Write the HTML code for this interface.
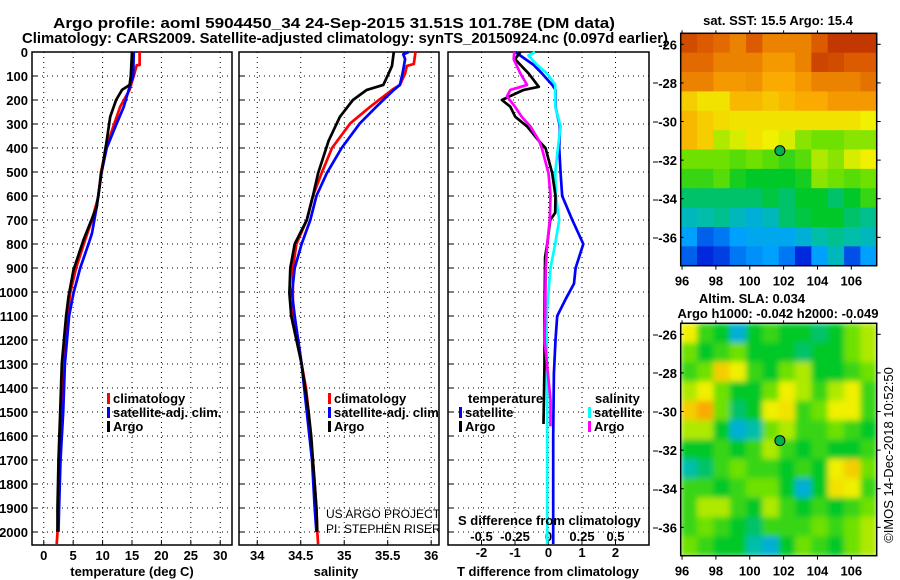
<!DOCTYPE html>
<html><head><meta charset="utf-8"><style>
body{margin:0;background:#fff;}
svg{display:block;font-family:"Liberation Sans",Arial,sans-serif;}
.b{font-weight:bold;font-size:13px;}
.n{font-weight:normal;}
</style></head><body>
<svg id="c" width="900" height="580" viewBox="0 0 900 580" xmlns="http://www.w3.org/2000/svg">
<defs>
<clipPath id="clipSal"><rect x="239" y="52" width="200" height="493"/></clipPath>
<clipPath id="clipSla"><rect x="680.7" y="323.3" width="196" height="232.4"/></clipPath>
<filter id="blur" x="0" y="0" width="1" height="1"><feGaussianBlur stdDeviation="3" edgeMode="duplicate"/></filter>
</defs>
<text x="53" y="28" textLength="562" lengthAdjust="spacingAndGlyphs" font-weight="bold" font-size="15">Argo profile: aoml 5904450_34 24-Sep-2015 31.51S 101.78E (DM data)</text>
<text x="22" y="43" textLength="646" lengthAdjust="spacingAndGlyphs" font-weight="bold" font-size="15">Climatology: CARS2009. Satellite-adjusted climatology: synTS_20150924.nc (0.097d earlier)</text>
<g id="g"></g>
</svg>
<script>
// ---- data ----
const depthTicks=[0,100,200,300,400,500,600,700,800,900,1000,1100,1200,1300,1400,1500,1600,1700,1800,1900,2000];
const tTicks=[0,5,10,15,20,25,30];
const sTicks=[34,34.5,35,35.5,36];
const dTTicks=[-2,-1,0,1,2];
const dSTicks=[-0.5,-0.25,0,0.25,0.5];
const dSLabels=["-0.5","-0.25","0","0.25","0.5"];
const tClimD=[0,54,55,90,158,228,297,400,505,600,700,800,900,1005,1100,1300,1500,1700,1900,2000,2050];
const tClim=[16.3,16.3,15.8,15.4,14.6,13.0,12.0,10.6,9.7,9.3,8.2,6.8,5.5,4.5,4.0,3.35,2.96,2.67,2.5,2.33,2.2];
const tArgoD=[0,100,137,158,200,270,370,505,645,783,908,1020,1100,1300,1500,1700,1900,2000];
const tArgo=[15.0,14.8,14.6,13.3,12.3,11.3,10.7,9.8,9.0,6.75,5.05,4.2,3.8,3.07,2.8,2.5,2.33,2.33];
const tSatD=[0,100,137,228,310,400,505,645,755,800,900,1005,1100,1300,1500,1700,1900,2000];
const tSat=[15.3,15.2,14.7,13.6,12.2,10.7,9.8,9.0,8.2,7.6,6.2,5.05,4.3,3.6,3.3,2.85,2.6,2.5];
const sClimD=[0,50,58,90,137,158,228,297,400,505,600,700,800,900,1005,1100,1200,1300,1400,1500,1600,1700,1800,1900,2000,2050];
const sClim=[35.82,35.8,35.72,35.7,35.64,35.55,35.30,35.07,34.86,34.74,34.64,34.57,34.45,34.41,34.41,34.41,34.47,34.51,34.56,34.59,34.61,34.64,34.66,34.68,34.69,34.70];
const sArgoD=[0,58,90,137,158,200,270,370,505,600,700,800,900,1005,1100,1200,1300,1400,1500,1600,1700,1800,1900,2000];
const sArgo=[35.57,35.55,35.51,35.45,35.26,35.1,34.95,34.82,34.70,34.64,34.57,34.43,34.38,34.37,34.39,34.45,34.51,34.55,34.59,34.62,34.64,34.66,34.68,34.69];
const sSatD=[0,10,30,90,137,158,228,297,400,505,600,700,800,900,1005,1100,1300,1500,1700,1900,2000];
const sSat=[35.74,35.68,35.70,35.67,35.64,35.57,35.37,35.18,34.97,34.80,34.68,34.61,34.51,34.43,34.40,34.43,34.51,34.57,34.63,34.66,34.68];
const dTArgoD=[0,30,90,145,158,200,228,270,310,370,400,505,600,670,700,800,855,1100,1300,1550];
const dTArgo=[-0.84,-1.0,-0.59,-0.29,-0.74,-1.39,-1.14,-0.99,-0.64,-0.29,-0.09,0.11,0.21,0.2,0.05,-0.04,-0.1,-0.12,-0.12,-0.15];
const dSArgoD=[0,30,90,137,158,185,228,270,310,370,400,505,600,700,800,900,1100,1200,1310,1450,1560];
const dSArgo=[-0.255,-0.26,-0.21,-0.16,-0.285,-0.31,-0.25,-0.2,-0.135,-0.07,-0.05,0.0,0.015,0.01,-0.01,-0.02,-0.025,-0.03,-0.01,0.015,0.015];
const dTSatD=[0,15,54,90,137,158,228,310,400,505,600,700,800,900,965,1030,1100,1200,1340,1600,2050];
const dTSat=[-0.99,-0.84,-0.44,-0.19,0.11,0.21,0.21,0.34,0.32,0.36,0.41,0.71,1.04,0.81,0.76,0.51,0.26,0.21,0.16,0.14,0.14];
const dSSatD=[0,15,54,90,137,228,310,400,505,600,700,800,900,1100,1340,1600,2050];
const dSSat=[-0.1,-0.15,-0.085,-0.01,0.05,0.05,0.09,0.07,0.05,0.055,0.08,0.05,0.015,-0.015,-0.01,-0.01,-0.01];
const latTicks=[-26,-28,-30,-32,-34,-36];
const lonTicks=[96,98,100,102,104,106];
const sstGrid=[
[0.92,0.9,0.88,0.85,0.9,0.85,0.85,0.85,0.9,0.95,0.95,0.95],
[0.88,0.88,0.85,0.85,0.85,0.82,0.82,0.85,0.93,0.92,0.9,0.9],
[0.85,0.85,0.82,0.82,0.83,0.8,0.8,0.82,0.85,0.85,0.85,0.87],
[0.75,0.72,0.72,0.78,0.78,0.76,0.78,0.8,0.8,0.82,0.82,0.82],
[0.78,0.75,0.73,0.72,0.72,0.72,0.72,0.72,0.72,0.72,0.72,0.7],
[0.78,0.75,0.65,0.68,0.72,0.7,0.68,0.62,0.6,0.6,0.62,0.62],
[0.6,0.6,0.6,0.58,0.6,0.58,0.55,0.58,0.65,0.62,0.68,0.7],
[0.55,0.55,0.58,0.52,0.5,0.5,0.5,0.52,0.62,0.6,0.58,0.6],
[0.45,0.45,0.45,0.45,0.45,0.48,0.45,0.5,0.5,0.45,0.5,0.55],
[0.38,0.4,0.42,0.38,0.35,0.38,0.45,0.48,0.5,0.5,0.45,0.42],
[0.3,0.22,0.25,0.3,0.32,0.32,0.32,0.35,0.4,0.42,0.4,0.38],
[0.22,0.15,0.18,0.25,0.28,0.3,0.25,0.15,0.3,0.38,0.2,0.3]];
const slaGrid=[
[0.7,0.55,0.5,0.35,0.5,0.55,0.5,0.5,0.45,0.5,0.6,0.65],
[0.6,0.5,0.55,0.6,0.5,0.5,0.5,0.45,0.5,0.5,0.6,0.65],
[0.55,0.6,0.75,0.7,0.55,0.5,0.6,0.65,0.5,0.5,0.55,0.6],
[0.65,0.7,0.6,0.5,0.5,0.6,0.7,0.65,0.55,0.65,0.7,0.55],
[0.75,0.8,0.6,0.45,0.5,0.7,0.72,0.55,0.6,0.7,0.7,0.55],
[0.65,0.65,0.5,0.35,0.4,0.6,0.65,0.55,0.55,0.6,0.55,0.5],
[0.5,0.5,0.55,0.5,0.55,0.65,0.55,0.5,0.55,0.5,0.5,0.55],
[0.4,0.45,0.55,0.6,0.55,0.55,0.5,0.55,0.5,0.7,0.75,0.6],
[0.55,0.55,0.5,0.55,0.6,0.6,0.5,0.35,0.5,0.72,0.7,0.55],
[0.55,0.65,0.65,0.55,0.5,0.65,0.55,0.5,0.55,0.5,0.55,0.6],
[0.55,0.6,0.55,0.5,0.45,0.55,0.55,0.55,0.6,0.55,0.6,0.65],
[0.6,0.55,0.5,0.5,0.4,0.35,0.5,0.6,0.55,0.5,0.6,0.65]];
const argoLon=101.78, argoLat=-31.51;

// ---- helpers ----
const NS="http://www.w3.org/2000/svg";
const G=document.getElementById('g');
function mk(tag,attrs,parent){const e=document.createElementNS(NS,tag);for(const k in attrs)e.setAttribute(k,attrs[k]);(parent||G).appendChild(e);return e;}
const PT=52,PB=545;
const yD=d=>PT+d*0.24;
function lin(d0,d1,r0,r1){return v=>r0+(v-d0)*(r1-r0)/(d1-d0);}
const xT=lin(-2,32,32,232), xS=lin(33.79,36.09,239,439), xDT=lin(-3,3,448,649), xDS=lin(-0.75,0.75,448,649);

function panel(x0,x1,xs,ticks,labels,name){
  const r=mk('rect',{x:x0,y:PT,width:x1-x0,height:PB-PT,fill:'none',stroke:'#000','stroke-width':1.5});
  
  
  depthTicks.forEach(d=>{const l=mk('line',{x1:x0,x2:x1,y1:yD(d),y2:yD(d),stroke:'#000','stroke-dasharray':'1 4'});
    
    
    mk('line',{x1:x0,x2:x0+5,y1:yD(d),y2:yD(d),stroke:'#000'});});
  ticks.forEach((t,i)=>{const l=mk('line',{x1:xs(t),x2:xs(t),y1:PT,y2:PB,stroke:'#000','stroke-dasharray':'1 4'});
    
    
    mk('line',{x1:xs(t),x2:xs(t),y1:PB,y2:PB-5,stroke:'#000'});
    if(labels){const tx=mk('text',{x:xs(t),y:PB+15,'text-anchor':'middle',class:'b'});tx.textContent=labels[i];
      
      }});
}
function line(xs,vals,ds,color,name){
  const pts=vals.map((v,i)=>xs(v).toFixed(1)+','+yD(ds[i]).toFixed(1)).join(' ');
  const p=mk('polyline',{points:pts,fill:'none',stroke:color,'stroke-width':2.7,'stroke-linejoin':'round'});
  
  
}
function txt(x,y,s,cls,extra,name){const t=mk('text',Object.assign({x:x,y:y,class:cls},extra||{}));t.textContent=s;
  
  return t;}
function legItem(x,y,color,s,name,clip){mk('rect',{x:x,y:y-10,width:3,height:11,fill:color});txt(x+6,y,s,'b',clip?{'clip-path':clip}:{},name);}

depthTicks.forEach(d=>txt(28,yD(d)+5,String(d),'b',{'text-anchor':'end'},'depth-tick-label'));

panel(32,232,xT,tTicks,tTicks.map(String),'temperature-panel');
panel(239,439,xS,sTicks,sTicks.map(String),'salinity-panel');
panel(448,649,xDT,dTTicks,null,'difference-panel');
dTTicks.forEach(t=>txt(xDT(t),557,String(t),'b',{'text-anchor':'middle'},'t-diff-tick-label'));
dSTicks.forEach((t,i)=>txt(xDS(t),541,dSLabels[i],'b',{'text-anchor':'middle'},'s-diff-tick-label'));

line(xT,tClim,tClimD,'#ff0000','temperature-climatology-line');
line(xT,tSat,tSatD,'#0000ff','temperature-satellite-line');
line(xT,tArgo,tArgoD,'#000000','temperature-argo-line');
line(xS,sClim,sClimD,'#ff0000','salinity-climatology-line');
line(xS,sSat,sSatD,'#0000ff','salinity-satellite-line');
line(xS,sArgo,sArgoD,'#000000','salinity-argo-line');
line(xDT,dTSat,dTSatD,'#0000ff','t-diff-satellite-line');
line(xDS,dSSat,dSSatD,'#00ffff','s-diff-satellite-line');
line(xDT,dTArgo,dTArgoD,'#000000','t-diff-argo-line');
line(xDS,dSArgo,dSArgoD,'#ff00ff','s-diff-argo-line');

legItem(107,403,'#ff0000','climatology','legend-climatology');
legItem(107,417,'#0000ff','satellite-adj. clim.','legend-satellite');
legItem(107,431,'#000000','Argo','legend-argo');
legItem(328,403,'#ff0000','climatology','legend-climatology');
legItem(328,417,'#0000ff','satellite-adj. clim.','legend-satellite','url(#clipSal)');
legItem(328,431,'#000000','Argo','legend-argo');
txt(468,403,'temperature','b',{},'legend-temperature-title');
legItem(459,417,'#0000ff','satellite','legend-t-satellite');
legItem(459,431,'#000000','Argo','legend-t-argo');
txt(595,403,'salinity','b',{},'legend-salinity-title');
legItem(588,417,'#00ffff','satellite','legend-s-satellite');
legItem(588,431,'#ff00ff','Argo','legend-s-argo');
txt(458,525,'S difference from climatology','b',{},'s-diff-axis-title');
txt(132,576,'temperature (deg C)','b',{'text-anchor':'middle'},'x-axis-title-temperature');
txt(336,576,'salinity','b',{'text-anchor':'middle'},'x-axis-title-salinity');
txt(548,576,'T difference from climatology','b',{'text-anchor':'middle'},'x-axis-title-t-diff');
txt(326,518,'US ARGO PROJECT','n',{'font-size':12,'clip-path':'url(#clipSal)'},'credit-project');
txt(326,533,'PI: STEPHEN RISER','n',{'font-size':12,'clip-path':'url(#clipSal)'},'credit-pi');
[83,122,162,200,238,335,373,412,451,490,528].forEach(y=>mk('line',{x1:653,x2:658,y1:y,y2:y,stroke:'#000'}));

// ---- maps ----
function cmap(v){
  const stops=[[0,[0,0,140]],[0.15,[0,40,220]],[0.3,[0,160,255]],[0.4,[0,190,170]],[0.5,[0,200,40]],[0.6,[110,225,0]],[0.7,[240,240,0]],[0.8,[250,170,0]],[0.9,[220,90,0]],[1,[170,20,0]]];
  for(let i=1;i<stops.length;i++){if(v<=stops[i][0]){const a=stops[i-1],b=stops[i],f=(v-a[0])/(b[0]-a[0]);
    return 'rgb('+a[1].map((c,k)=>Math.round(c+(b[1][k]-c)*f)).join(',')+')';}}
  return 'rgb(170,20,0)';
}
function map(top,grid,name,smooth){
  const L=680.7,R=876.7,B=top+232.4;
  const xL=lin(95.92,107.5,L,R), yL=lin(-25.43,-37.47,top,B);
  const nr=grid.length,nc=grid[0].length,cw=(R-L)/nc,ch=(B-top)/nr;
  let grp=G;
  if(smooth){const outer=mk('g',{'clip-path':'url(#clipSla)'});grp=mk('g',{filter:'url(#blur)'},outer);}
  grid.forEach((row,r)=>row.forEach((v,c)=>{
    const e=mk('rect',{x:(L+c*cw).toFixed(2),y:(top+r*ch).toFixed(2),width:(cw+0.6).toFixed(2),height:(ch+0.6).toFixed(2),fill:cmap(v)},grp);
    
    
  }));
  const f=mk('rect',{x:L,y:top,width:R-L,height:B-top,fill:'none',stroke:'#000','stroke-width':1.5});
  
  
  latTicks.forEach(t=>{mk('line',{x1:R,x2:R+4,y1:yL(t),y2:yL(t),stroke:'#000'});mk('line',{x1:L,x2:L+3,y1:yL(t),y2:yL(t),stroke:'#000'});
    txt(677,yL(t)+5,String(t),'b',{'text-anchor':'end'},name+'-lat-label');});
  lonTicks.forEach(t=>{mk('line',{x1:xL(t),x2:xL(t),y1:B,y2:B+4,stroke:'#000'});mk('line',{x1:xL(t),x2:xL(t),y1:top,y2:top-3,stroke:'#000'});
    txt(xL(t),B+20,String(t),'b',{'text-anchor':'middle'},name+'-lon-label');});
  const m=mk('circle',{cx:xL(argoLon),cy:yL(argoLat),r:5,fill:'#00b050',stroke:'#000','stroke-width':1});
  
  
}
map(33.3,sstGrid,'sst-map',false);
map(323.3,slaGrid,'sla-map',true);
txt(778,25,'sat. SST: 15.5 Argo: 15.4','b',{'text-anchor':'middle'},'sst-map-title');
txt(752,303,'Altim. SLA: 0.034','b',{'text-anchor':'middle'},'sla-map-title');
txt(778,318,'Argo h1000: -0.042 h2000: -0.049','b',{'text-anchor':'middle'},'sla-map-subtitle');
txt(0,0,'\u00A9IMOS 14-Dec-2018 10:52:50','n',{'font-size':13,transform:'translate(893,455) rotate(-90)','text-anchor':'middle'},'timestamp');
</script>
</body></html>
